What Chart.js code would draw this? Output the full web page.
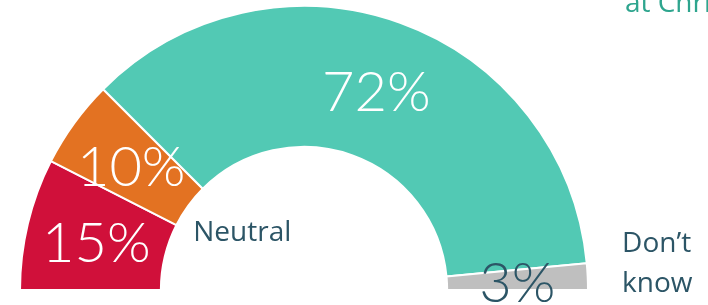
<!DOCTYPE html>
<html>
<head>
<meta charset="utf-8">
<script src="https://cdn.jsdelivr.net/npm/chart.js@4"></script>
<style>
html,body{margin:0;padding:0;background:#fff;overflow:hidden;}
</style>
</head>
<body>
<canvas id="gauge" width="708" height="305"></canvas>
<script>
// Data
const categories=["Negative","Neutral","Positive","Don’t know"];
const values=[15,10,72,3];
const valueLabels=["15%","10%","72%","3%"];
const colors=["#d0103a","#e37222","#52c9b4","#bfbfbf"];
const labelColors=["#ffffff","#ffffff","#ffffff","#2c5566"];
const titleText="at Christmas";

// percent labels + side text
const sliceText={
id:"sliceText",
afterDatasetsDraw(chart){
const c=chart.ctx;
const arcs=chart.getDatasetMeta(0).data;
const cx=arcs[0].x, cy=arcs[0].y, R=arcs[0].outerRadius;
c.save();
c.font="300 56px Lato";
c.textAlign="center";
c.textBaseline="alphabetic";
arcs.forEach((a,i)=>{
const p=a.tooltipPosition();
c.fillStyle=labelColors[i];
c.fillText(valueLabels[i],p.x,p.y+22);
});

c.font="28px 'Open Sans'";
c.textAlign="left";
c.fillStyle="#2c5566";
c.fillText(categories[1],cx-0.39*R,cy-49);
c.fillText("Don’t",cx+1.12*R,cy-38);
c.fillText("know",cx+1.12*R,cy+2);

c.fillStyle="#2ea58e";
c.fillText(titleText,cx+1.13*R,cy-278);
c.restore();
}
};

new Chart(document.getElementById("gauge"),{
type:"doughnut",
data:{
labels:categories,
datasets:[{
data:values,
backgroundColor:colors,
borderColor:"#ffffff",
borderWidth:2
}]
},
options:{
responsive:false,
animation:false,
rotation:-90,
circumference:180,
cutout:"50.4%",
layout:{padding:{top:5,bottom:14,left:19,right:119}},
plugins:{
legend:{display:false},
tooltip:{enabled:false}
}
},
plugins:[sliceText]
});
</script>
</body>
</html>
